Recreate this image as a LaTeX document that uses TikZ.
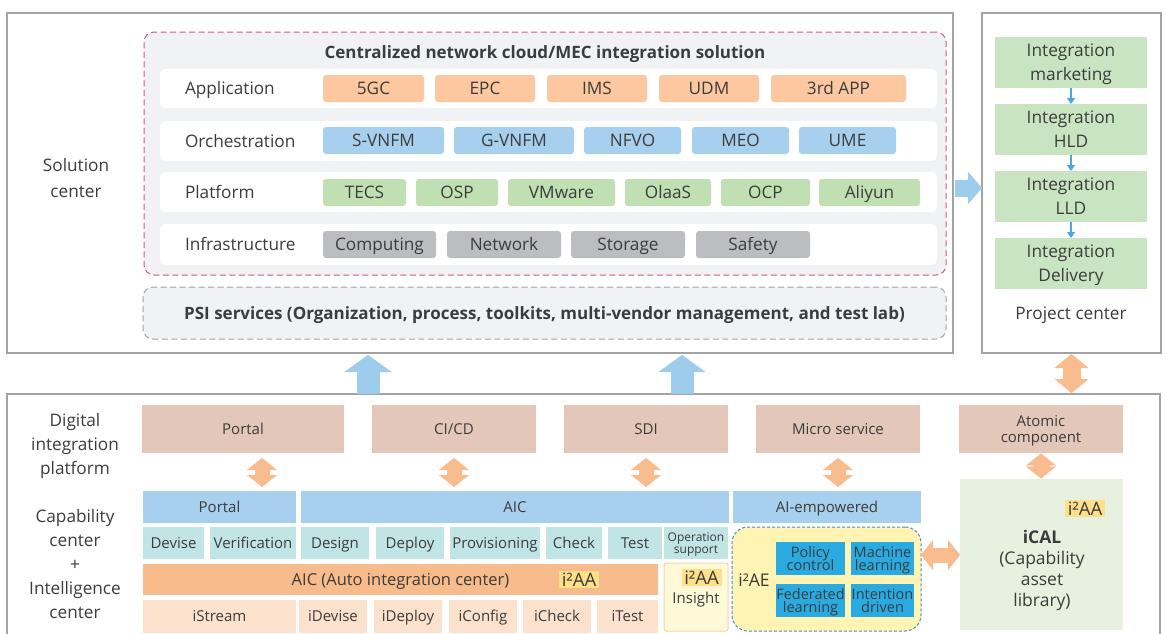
\documentclass[tikz,border=0pt]{standalone}
\usepackage{fontspec}
\setmainfont{Open Sans}
\usetikzlibrary{arrows.meta}
\definecolor{txt}{HTML}{3C3C3C}
\definecolor{frm}{HTML}{A3A3A3}
\definecolor{pinkd}{HTML}{D2587F}
\definecolor{lgray}{HTML}{F1F2F4}
\definecolor{cOr}{HTML}{FDC89F}
\definecolor{cBl}{HTML}{A6D0EE}
\definecolor{cGr}{HTML}{C0E0B4}
\definecolor{cGy}{HTML}{BCBDC0}
\definecolor{brn}{HTML}{E3C8BA}
\definecolor{teal}{HTML}{C1E5E4}
\definecolor{aicor}{HTML}{F8BB8C}
\definecolor{lor}{HTML}{FCE1CD}
\definecolor{insf}{HTML}{FFF9D8}
\definecolor{insb}{HTML}{F6D4AE}
\definecolor{aef}{HTML}{FFF4B4}
\definecolor{aeb}{HTML}{3F8CD2}
\definecolor{ibl}{HTML}{29ABE2}
\definecolor{icalf}{HTML}{E6F1DF}
\definecolor{pgr}{HTML}{C9E4C1}
\definecolor{arrOr}{HTML}{F9BC8F}
\definecolor{arrBl}{HTML}{9DCCEC}
\definecolor{arrSm}{HTML}{4DA6DF}
\definecolor{ylab}{HTML}{FFE08A}
\newcommand\fsz[2]{\fontsize{#1}{#2}\selectfont\lineskiplimit=-20pt\relax}
\newcommand\mybox[7]{\node[#1,anchor=north west,minimum width={(#4-#2)*1pt},minimum height={(#5-#3)*1pt}] (#6) at (#2,#3) {#7};}
\begin{document}
\begin{tikzpicture}[x=1pt,y=-1pt,
  every node/.style={text=txt,inner sep=0pt,outer sep=0pt,align=center},
  th/.style={text height=#1,text depth=0pt},
  frame/.style={draw=frm,line width=1.2pt},
  rowbox/.style={fill=white,rounded corners=6pt},
  chip/.style={rounded corners=3pt,font=\fsz{17.2}{20},th=12.3pt},
  lbl/.style={font=\fsz{17.2}{24}},
  lbl1/.style={font=\fsz{17.2}{24},th=12.3pt},
  sm/.style={font=\fsz{15}{16},th=10.7pt},
  pbox/.style={fill=pgr,font=\fsz{17.3}{23.5},th=35.8pt},
  tiny/.style={font=\fsz{14.5}{13},th=23.4pt},
  yl/.style={fill=ylab,minimum width=40pt,minimum height=17pt,font=\fsz{18.5}{20},th=13.2pt},
  odarrow/.style={draw=arrOr,line width=15pt,{Triangle[width=30pt,length=12pt,line width=0.1pt]}-{Triangle[width=30pt,length=12pt,line width=0.1pt]}},
  bigup/.style={draw=arrBl,line width=23pt,-{Triangle[width=47pt,length=17pt,line width=0.1pt]}},
  smarrow/.style={draw=arrSm,line width=1.5pt,-{Triangle[width=8pt,length=6pt]}}]
\useasboundingbox (0,0) rectangle (1166,633);
% ---------- frames
\mybox{frame}{7}{13}{953}{353}{solFrame}{}
\mybox{frame}{982}{13}{1161}{353}{projFrame}{}
\mybox{frame}{7}{394}{1160}{645}{botFrame}{}
% ---------- solution center
\node[lbl,th=38.3pt,font=\fsz{17.2}{26}] (solLbl) at (76,178) {Solution\\center};
\mybox{fill=lgray,draw=pinkd,line width=1pt,dash pattern=on 6pt off 3.5pt,rounded corners=10pt}{144}{32}{946}{275}{cenBox}{}
\node[font=\bfseries\fsz{17}{18},th=12.1pt] (cenTitle) at (545,52) {Centralized network cloud/MEC integration solution};
\mybox{rowbox}{160}{69}{937}{108}{rowApp}{}
\mybox{rowbox}{160}{121}{937}{161}{rowOrch}{}
\mybox{rowbox}{160}{172}{937}{212}{rowPlat}{}
\mybox{rowbox}{160}{224}{937}{265}{rowInf}{}
\node[lbl1,anchor=west] (lApp) at (185,88.5) {Application};
\node[lbl1,anchor=west] (lOrch) at (185,141) {Orchestration};
\node[lbl1,anchor=west] (lPlat) at (185,192) {Platform};
\node[lbl1,anchor=west] (lInf) at (185,244.5) {Infrastructure};
% application
\mybox{chip,fill=cOr}{323}{75}{424}{102}{a1}{5GC}
\mybox{chip,fill=cOr}{435}{75}{535}{102}{a2}{EPC}
\mybox{chip,fill=cOr}{547}{75}{647}{102}{a3}{IMS}
\mybox{chip,fill=cOr}{659}{75}{759}{102}{a4}{UDM}
\mybox{chip,fill=cOr}{771}{75}{906}{102}{a5}{3rd APP}
% orchestration
\mybox{chip,fill=cBl}{323}{127}{444}{154}{o1}{S-VNFM}
\mybox{chip,fill=cBl}{454}{127}{574}{154}{o2}{G-VNFM}
\mybox{chip,fill=cBl}{584}{127}{681}{154}{o3}{NFVO}
\mybox{chip,fill=cBl}{692}{127}{789}{154}{o4}{MEO}
\mybox{chip,fill=cBl}{799}{127}{896}{154}{o5}{UME}
% platform
\mybox{chip,fill=cGr}{323}{179}{406}{206}{p1}{TECS}
\mybox{chip,fill=cGr}{416}{179}{498}{206}{p2}{OSP}
\mybox{chip,fill=cGr}{508}{179}{615}{206}{p3}{VMware}
\mybox{chip,fill=cGr}{625}{179}{711}{206}{p4}{OlaaS}
\mybox{chip,fill=cGr}{721}{179}{810}{206}{p5}{OCP}
\mybox{chip,fill=cGr}{819}{179}{920}{206}{p6}{Aliyun}
% infrastructure
\mybox{chip,fill=cGy}{323}{231}{436}{258}{i1}{Computing}
\mybox{chip,fill=cGy}{447}{231}{561}{258}{i2}{Network}
\mybox{chip,fill=cGy}{571}{231}{685}{258}{i3}{Storage}
\mybox{chip,fill=cGy}{696}{231}{810}{258}{i4}{Safety}
% PSI
\mybox{fill=lgray,draw=frm,line width=1pt,dash pattern=on 6pt off 3.5pt,rounded corners=10pt,font=\bfseries\fsz{17}{18},th=12.1pt}{143}{287}{946}{339}{psi}{PSI services (Organization, process, toolkits, multi-vendor management, and test lab)}
% ---------- project center
\mybox{pbox}{995}{37}{1147}{88}{pm}{Integration\\marketing}
\mybox{pbox}{995}{104}{1147}{155}{ph}{Integration\\HLD}
\mybox{pbox}{995}{171}{1147}{222}{pl}{Integration\\LLD}
\mybox{pbox}{995}{238}{1147}{289}{pd}{Integration\\Delivery}
\node[lbl1] (projLbl) at (1071,313) {Project center};
\draw[smarrow] (pm.south) -- (ph.north);
\draw[smarrow] (ph.south) -- (pl.north);
\draw[smarrow] (pl.south) -- (pd.north);
% ---------- bottom labels
\node[lbl,th=60.3pt] (digLbl) at (75,444) {Digital\\integration\\platform};
\node[lbl,th=108.3pt] (capLbl) at (75,564) {Capability\\center\\+\\Intelligence\\center};
% brown row
\mybox{fill=brn,sm}{142}{405}{344}{453}{dPortal}{Portal}
\mybox{fill=brn,sm}{372}{405}{536}{453}{dCicd}{CI/CD}
\mybox{fill=brn,sm}{564}{405}{728}{453}{dSdi}{SDI}
\mybox{fill=brn,sm}{756}{405}{920}{453}{dMicro}{Micro service}
\mybox{fill=brn,font=\fsz{15}{16},th=26.7pt}{959}{405}{1123}{453}{dAtom}{Atomic\\component}
% blue row
\mybox{fill=cBl,sm}{143}{491}{296}{523}{cPortal}{Portal}
\mybox{fill=cBl,sm}{301}{491}{729}{523}{cAic}{AIC}
\mybox{fill=cBl,sm}{733}{491}{921}{523}{cAi}{AI-empowered}
% teal row
\mybox{fill=teal,sm}{143}{527}{204}{559}{tDevise}{Devise}
\mybox{fill=teal,sm}{210}{527}{296}{559}{tVer}{Verification}
\mybox{fill=teal,sm}{301}{527}{369}{559}{tDesign}{Design}
\mybox{fill=teal,sm}{376}{527}{444}{559}{tDeploy}{Deploy}
\mybox{fill=teal,sm}{450}{527}{540}{559}{tProv}{Provisioning}
\mybox{fill=teal,sm}{546}{527}{602}{559}{tCheck}{Check}
\mybox{fill=teal,sm}{608}{527}{662}{559}{tTest}{Test}
\mybox{fill=teal,font=\fsz{12}{11.5},th=20.1pt}{664}{527}{728}{559}{tOps}{Operation\\support}
% AIC bar
\mybox{fill=aicor,font=\fsz{16.5}{18},th=11.8pt}{143}{564}{658}{595}{aicBar}{AIC (Auto integration center)}
\node[yl] (aicTag) at (579,579.5) {i²AA};
% i-row
\mybox{fill=lor,sm}{143}{600}{296}{633}{rStream}{iStream}
\mybox{fill=lor,sm}{299}{600}{367}{633}{rDevise}{iDevise}
\mybox{fill=lor,sm}{374}{600}{442}{633}{rDeploy}{iDeploy}
\mybox{fill=lor,sm}{449}{600}{517}{633}{rConfig}{iConfig}
\mybox{fill=lor,sm}{523}{600}{591}{633}{rCheck}{iCheck}
\mybox{fill=lor,sm}{597}{600}{658}{633}{rTest}{iTest}
% insight
\mybox{fill=insf,draw=insb,line width=1pt,rounded corners=2pt}{664}{563}{728}{631}{insBox}{}
\node[yl] (insTag) at (701.5,577.5) {i²AA};
\node[sm] (insLbl) at (696,598) {Insight};
% i2AE
\mybox{fill=aef,draw=aeb,line width=1pt,dash pattern=on 3pt off 2pt,rounded corners=16pt}{732}{527}{921}{631}{aeBox}{}
\node[font=\fsz{17.5}{20},th=12.5pt] (aeLbl) at (754,580) {i²AE};
\mybox{fill=ibl,tiny}{776}{542}{845}{575}{bPol}{Policy\\control}
\mybox{fill=ibl,tiny}{851}{542}{914}{575}{bMl}{Machine\\learning}
\mybox{fill=ibl,tiny}{776}{584}{845}{617}{bFed}{Federated\\learning}
\mybox{fill=ibl,tiny}{851}{584}{914}{617}{bInt}{Intention\\driven}
% iCAL
\mybox{fill=icalf}{960}{479}{1123}{630}{icalBox}{}
\node[yl] (icalTag) at (1085,508.5) {i²AA};
\node[font=\fsz{17.5}{21},th=75.5pt] (icalLbl) at (1042,568.5) {\textbf{iCAL}\\(Capability\\asset\\library)};
% ---------- arrows
\draw[odarrow,shorten <=5pt,shorten >=4pt] ([xshift=19pt]dPortal.south) -- ([xshift=19pt]dPortal.south |- cPortal.north);
\draw[odarrow,shorten <=5pt,shorten >=4pt] (dCicd.south) -- (dCicd.south |- cAic.north);
\draw[odarrow,shorten <=5pt,shorten >=4pt] (dSdi.south) -- (dSdi.south |- cAic.north);
\draw[odarrow,shorten <=5pt,shorten >=4pt] (dMicro.south) -- (dMicro.south |- cAi.north);
\draw[odarrow,shorten <=0.5pt,shorten >=0.5pt] (dAtom.south) -- (dAtom.south |- icalBox.north);
\draw[odarrow] ([yshift=24pt]aeBox.east) -- ([yshift=24pt]aeBox.east -| icalBox.west);
\draw[draw=arrOr,line width=18pt,{Triangle[width=34pt,length=14pt,line width=0.1pt]}-{Triangle[width=34pt,length=14pt,line width=0.1pt]},shorten <=1pt,shorten >=1pt] (projFrame.south) -- (projFrame.south |- botFrame.north);
\coordinate (upA) at (368,394);
\coordinate (upB) at (682,394);
\draw[bigup,shorten >=2pt] (upA) -- (upA |- solFrame.south);
\draw[bigup,shorten >=2pt] (upB) -- (upB |- solFrame.south);
\draw[draw=arrBl,line width=17pt,-{Triangle[width=32pt,length=14pt,line width=0.1pt]},shorten <=1.5pt] ([yshift=-5pt]solFrame.east) -- ([yshift=-5pt]solFrame.east -| projFrame.west);
\end{tikzpicture}
\end{document}
